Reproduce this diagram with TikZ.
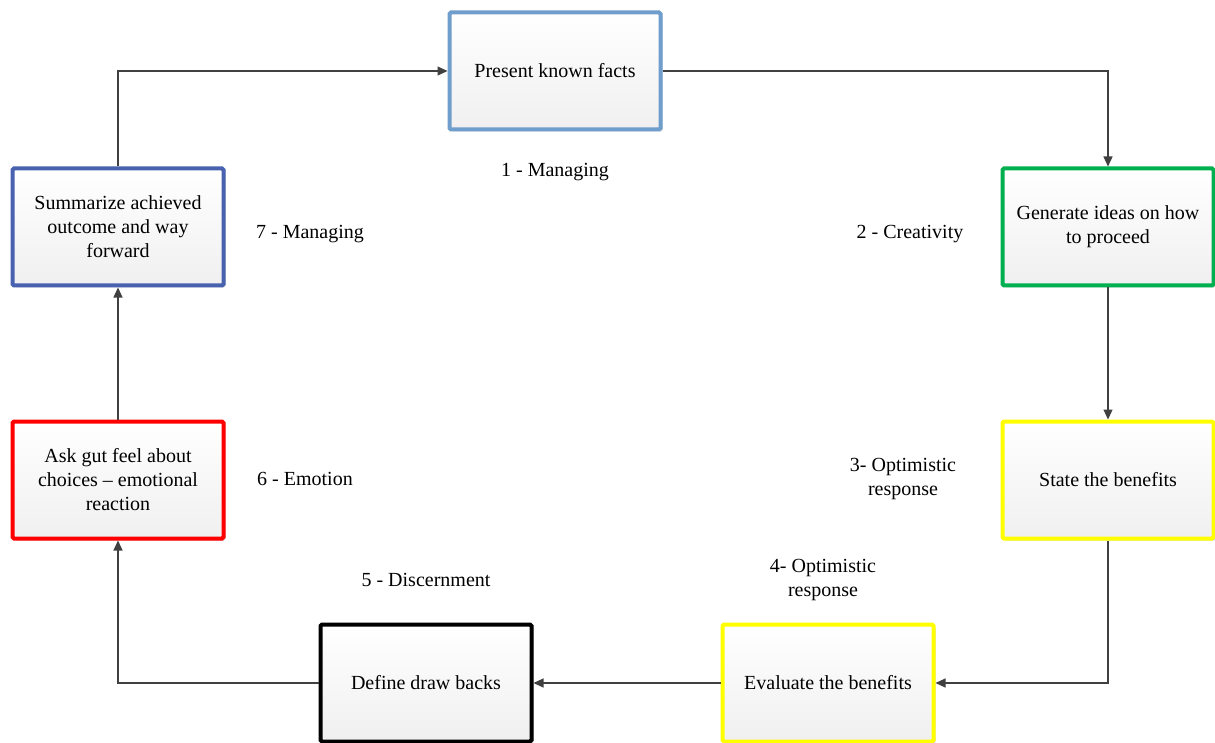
\documentclass[tikz,border=0pt]{standalone}
\usepackage{fontspec}
\setmainfont{Liberation Serif}[Ligatures=TeX]
\usetikzlibrary{arrows.meta,shadows}
\definecolor{lineclr}{RGB}{64,64,64}
\definecolor{bluea}{RGB}{112,158,204}
\definecolor{blueb}{RGB}{72,98,176}
\definecolor{greenc}{RGB}{0,176,80}
\definecolor{yellowc}{RGB}{255,255,0}
\definecolor{redc}{RGB}{255,0,0}
\begin{document}
\begin{tikzpicture}[x=1pt,y=-1pt,
  stepbox/.style={draw, line width=4pt, rounded corners=1.5pt,
    minimum width=211pt, minimum height=117pt, align=center,
    top color=white, bottom color=black!6, inner sep=2pt,
    drop shadow={shadow xshift=2pt, shadow yshift=-2pt, opacity=0.25, fill=black!60},
    font=\rmfamily\fontsize{20}{24}\selectfont},
  lbl/.style={align=center, font=\rmfamily\fontsize{20}{24}\selectfont},
  flow/.style={draw=lineclr, line width=1.2pt, -{Triangle[length=10pt,width=9pt]}}]
\useasboundingbox (0,0) rectangle (1215,743);
\fill[white] (0,0) rectangle (1215,743);

% the seven steps of the cycle
\node[stepbox, draw=bluea]   (facts)   at (555,71)   {Present known facts};
\node[stepbox, draw=greenc]  (ideas)   at (1108,227) {Generate ideas on how\\to proceed};
\node[stepbox, draw=yellowc] (state)   at (1108,480) {State the benefits};
\node[stepbox, draw=yellowc] (eval)    at (828,683)  {Evaluate the benefits};
\node[stepbox, draw=black]   (draw)    at (426,683)  {Define draw backs};
\node[stepbox, draw=redc]    (gut)     at (118,480)  {Ask gut feel about\\choices – emotional\\reaction};
\node[stepbox, draw=blueb]   (summ)    at (118,227)  {Summarize achieved\\outcome and way\\forward};

% connectors
\draw[flow] (summ.north) |- (facts.west);
\draw[flow] (facts.east) -| (ideas.north);
\draw[flow] (ideas.south) -- (state.north);
\draw[flow] (state.south) |- (eval.east);
\draw[flow] (eval.west) -- (draw.east);
\draw[flow] (draw.west) -| (gut.south);
\draw[flow] (gut.north) -- (summ.south);

% role labels
\node[lbl] (l1) at (555,172) {1 - Managing};
\node[lbl] (l2) at (910,234) {2 - Creativity};
\node[lbl] (l3) at (903,479) {3- Optimistic\\response};
\node[lbl] (l4) at (823,580) {4- Optimistic\\response};
\node[lbl] (l5) at (426,580) {5 - Discernment};
\node[lbl] (l6) at (305,479) {6 - Emotion};
\node[lbl] (l7) at (310,234) {7 - Managing};
\end{tikzpicture}
\end{document}
